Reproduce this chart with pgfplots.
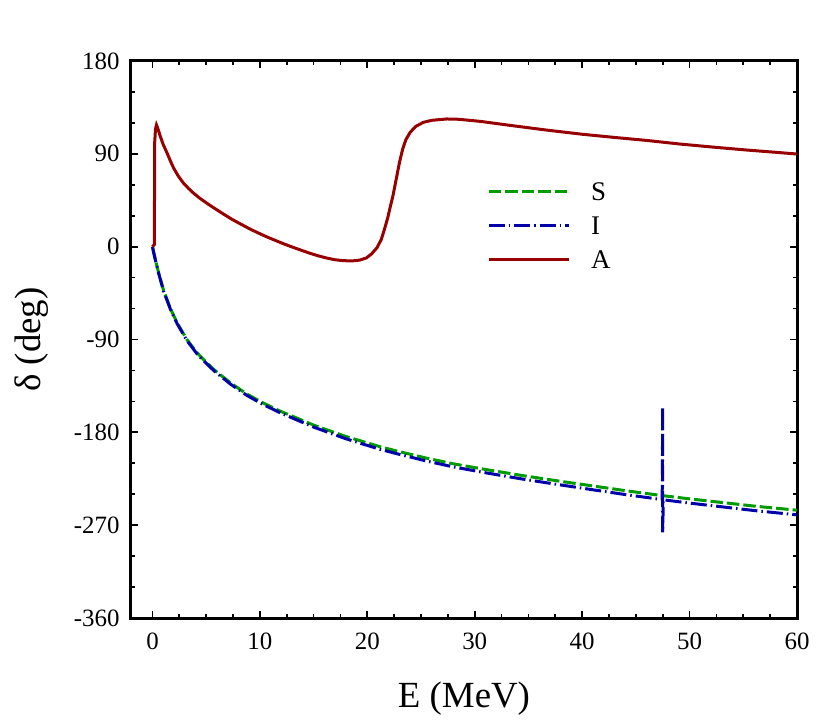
\documentclass[border=0pt]{standalone}
\usepackage{fontspec}
\setmainfont{Liberation Serif}
\usepackage{pgfplots}
\pgfplotsset{compat=1.18}
\definecolor{cS}{RGB}{0,155,0}
\definecolor{cI}{RGB}{0,0,170}
\definecolor{cA}{RGB}{150,0,0}
\begin{document}
\begin{tikzpicture}
\useasboundingbox (-131bp,-107bp) rectangle (699bp,618bp);
\begin{axis}[
  at={(0,0)}, anchor=south west,
  scale only axis, width=666bp, height=557bp,
  xmin=-2, xmax=60, ymin=-360, ymax=180,
  xtick={0,10,...,60}, ytick={-360,-270,...,180},
  minor x tick num=3, minor y tick num=2,
  tick align=inside,
  major tick length=7bp, minor tick length=4bp,
  every tick/.style={black, line width=1.7bp},
  axis line style={line width=3bp},
  ticklabel style={font=\fontsize{25}{25}\selectfont},
  /pgf/number format/assume math mode=true,
  yticklabel style={xshift=-8bp},
  xticklabel style={yshift=-11bp},
  every axis x label/.style={at={(rel axis cs:0.5,0)}, anchor=base, yshift=-89bp, font=\fontsize{37}{37}\selectfont},
  every axis y label/.style={at={(rel axis cs:0,0.5)}, anchor=center, rotate=90, yshift=99bp, font=\fontsize{37}{37}\selectfont},
  xlabel={E (MeV)}, ylabel={δ (deg)},
  legend style={at={(rel axis cs:0.5345,0.7815)}, anchor=north west, draw=none, fill=none,
    inner sep=0pt, row sep=16bp, column sep=21bp,
    font=\fontsize{27}{27}\selectfont,
    nodes={inner sep=0pt, text depth=0pt}},
  legend cell align=left,
  legend image code/.code={\draw[#1] (0bp,0bp) -- (80bp,0bp);},
]
\addplot[cS, line width=3bp, dash pattern=on 12.5bp off 4bp] coordinates {
(0,0) (0.1,-5) (0.28,-13) (0.59,-26) (1.05,-43) (1.67,-60) (2.3,-74) (3.2,-90) (4.15,-103) (5.1,-113) (5.7,-119) (7.25,-132) (8.8,-143) (10.3,-151.5) (11.9,-159.5) (13.4,-166) (15,-173) (16.5,-178.5) (18,-184) (19.6,-189) (21.2,-194) (22.7,-198) (25.5,-205) (28,-210.5) (31,-216) (34.5,-222) (38,-227.5) (41,-232) (44,-236.5) (47.2,-241) (50,-244.5) (53,-248) (56,-251.5) (60,-255.5)
};
\addlegendentry{S}
\addplot[cI, line width=3bp, dash pattern=on 16bp off 4bp on 1.5bp off 4bp] coordinates {
(0,0) (0.1,-5.2) (0.28,-13.4) (0.59,-26.5) (1.05,-43.6) (1.67,-60.7) (2.3,-74.8) (3.2,-90.9) (4.15,-104) (5.1,-114) (5.7,-120.1) (7.25,-133.2) (8.8,-144.3) (10.3,-153) (11.9,-161.1) (13.4,-167.8) (15,-174.9) (16.5,-180.6) (18,-186.2) (19.6,-191.4) (21.2,-196.5) (22.7,-200.6) (25.5,-207.8) (28,-213.5) (31,-219.2) (34.5,-225.4) (38,-231) (41,-235.7) (44,-240.3) (47.45,-245.2) (47.5,-155) (47.5,-277) (47.55,-245.4) (50,-248.6) (53,-252.2) (56,-255.8) (60,-260)
};
\addlegendentry{I}
\addplot[cA, line width=3bp] coordinates {
(0,0) (0.17,2) (0.19,50) (0.2,100) (0.28,114) (0.37,118) (0.5,114.5) (0.74,106.6) (1.0,99) (1.37,90.5) (1.67,83) (1.98,76) (2.4,68.5) (2.9,61.4) (3.4,56) (3.84,51.7) (4.4,47) (5.08,42) (5.8,37) (6.63,31.5) (7.4,26.5) (8.2,22) (9.0,17.5) (9.8,13.5) (10.6,9.7) (11.4,6.2) (12.2,2.8) (13,-0.3) (13.8,-3.3) (14.6,-6.2) (15.4,-8.8) (16.2,-11) (17,-12.7) (17.8,-13.6) (18.6,-13.8) (19.3,-13) (19.9,-11) (20.4,-7) (20.9,-1) (21.3,7) (21.6,17) (21.9,28) (22.1,37) (22.4,50) (22.7,66) (23,82) (23.3,95) (23.6,104) (24,111) (24.5,116.5) (25.2,120.5) (26,122.5) (27.4,123.8) (28.5,123.5) (30.5,121.5) (33,118) (36.7,113) (40,109) (42.9,106) (46,103) (49.1,99.5) (52,96.7) (55.3,93.7) (58,91.5) (60,89.8)
};
\addlegendentry{A}
\end{axis}
\end{tikzpicture}
\end{document}
